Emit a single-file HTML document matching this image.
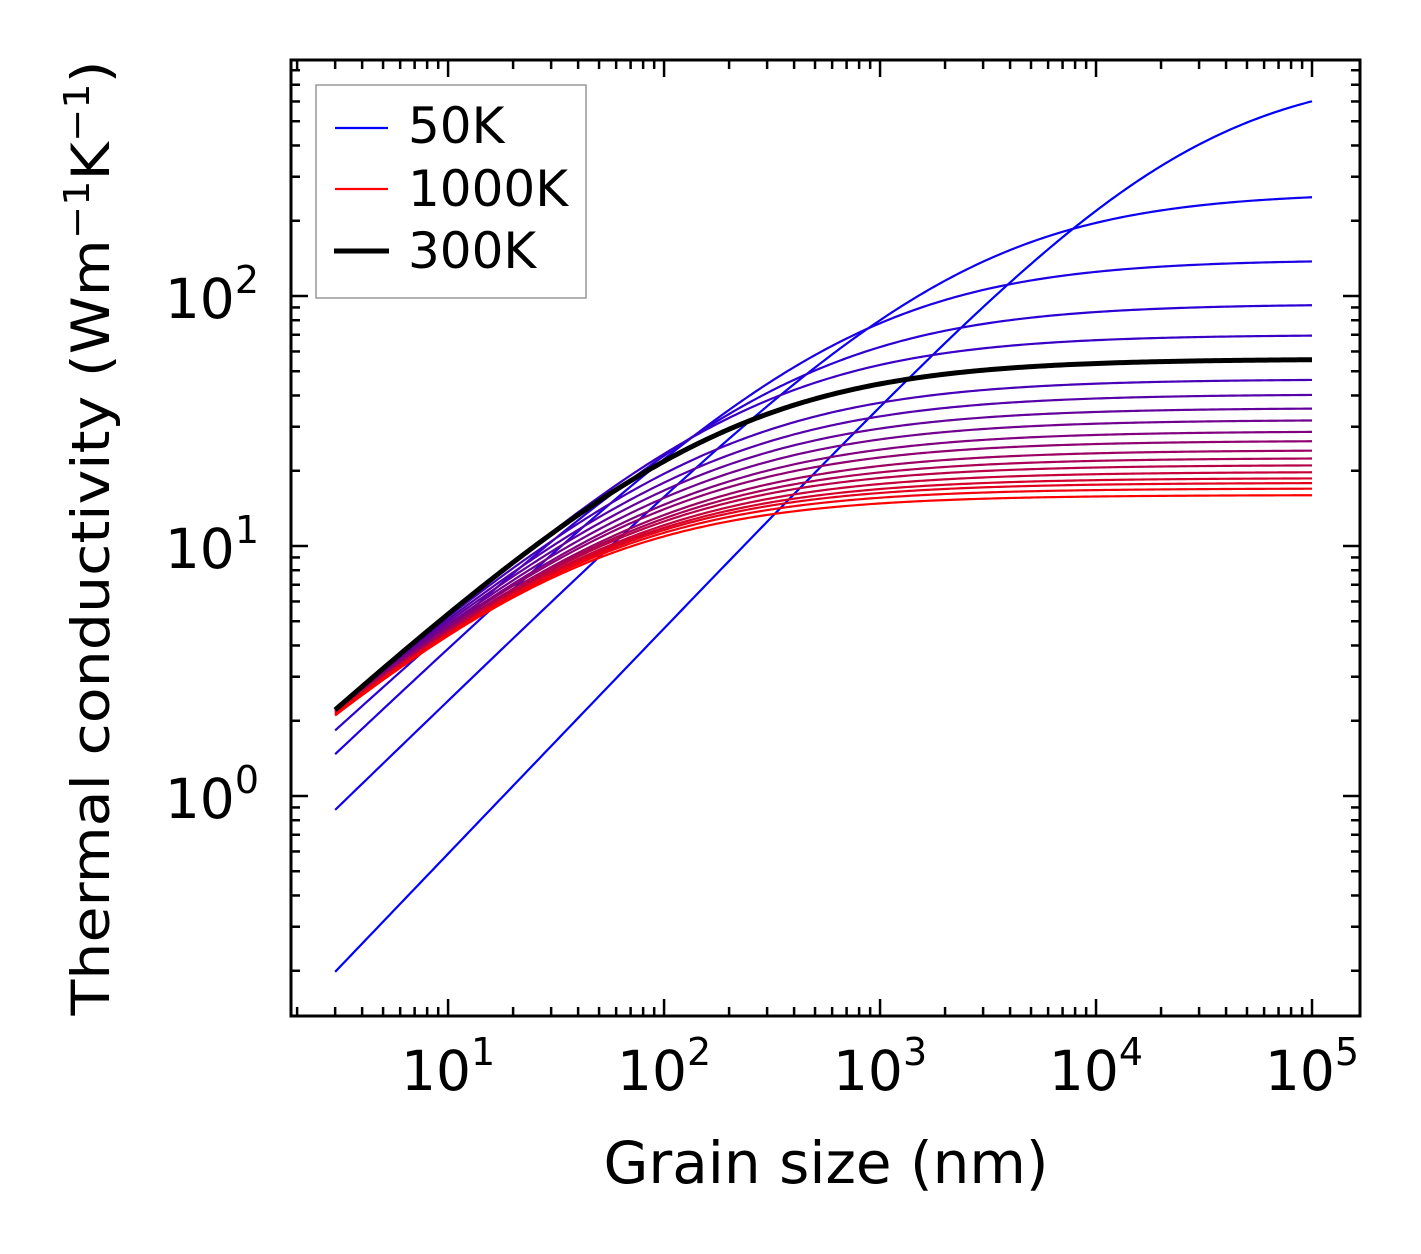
<!DOCTYPE html>
<html><head><meta charset="utf-8"><style>
html,body{margin:0;padding:0;background:#fff;}
svg{display:block;font-family:"DejaVu Sans","Liberation Sans",sans-serif;}
</style></head><body>
<svg id="chart" width="1421" height="1254" viewBox="0 0 1421 1254" xmlns="http://www.w3.org/2000/svg">
<rect x="0" y="0" width="1421" height="1254" fill="#fff"/>
<g id="series"></g>
<g id="ticks"></g>
<rect x="291" y="60" width="1069" height="956" fill="none" stroke="#000" stroke-width="3"/>
<g id="xlabels"></g>
<g id="ylabels"></g>
<text x="826" y="1183" font-size="58" text-anchor="middle">Grain size (nm)</text>
<text transform="translate(109,538) rotate(-90)" font-size="53" text-anchor="middle" textLength="955" lengthAdjust="spacingAndGlyphs">Thermal conductivity (Wm<tspan dy="-20" font-size="36">−1</tspan><tspan dy="20">K</tspan><tspan dy="-20" font-size="36">−1</tspan><tspan dy="20">)</tspan></text>
<g>
<rect x="316" y="85" width="270" height="213" fill="#fff" stroke="#999" stroke-width="1.5"/>
<line x1="335" y1="128" x2="388" y2="128" stroke="#0000ff" stroke-width="2.2"/>
<text x="408" y="143" font-size="50">50K</text>
<line x1="335" y1="189" x2="388" y2="189" stroke="#ff0000" stroke-width="2.2"/>
<text x="408" y="206" font-size="50">1000K</text>
<line x1="334" y1="251" x2="389" y2="251" stroke="#000" stroke-width="5"/>
<text x="408" y="268" font-size="50">300K</text>
</g>
</svg>
<script>
// Per-curve values: conductivity at 3 nm, at 1000 nm, and bulk plateau
const temperatures = [50,100,150,200,250,350,400,450,500,550,600,650,700,750,800,850,900,950,1000];
const kAt3nm = [0.198,0.88,1.47,1.83,2.1,2.24,2.24,2.23,2.22,2.21,2.2,2.19,2.18,2.17,2.16,2.15,2.13,2.12,2.1];
const kAt1000nm = [36,80,77.8,62.5,53,37.4,33.0,29.5,26.7,24.3,22.6,20.9,19.7,18.7,17.7,16.9,16.3,15.6,14.8];
const kBulk = [800,260,140,93,70,46.5,40.5,35.7,32,28.8,26.4,24.2,22.5,21.1,19.8,18.7,17.9,17.0,16.0];
const k300 = [2.21, 44.5, 56]; // 300 K: at 3 nm, at 1000 nm, bulk
const grainRange = [3, 100000];
const xTickExps = [1, 2, 3, 4, 5];
const yTickExps = [0, 1, 2];

const NS = "http://www.w3.org/2000/svg";
const L = 291, R = 1360, T = 60, B = 1016;
const xMinL = 0.2727, xMaxL = 5.2222, yMinL = -0.88, yMaxL = 2.944;
function xs(v){ return L + (Math.log10(v) - xMinL) / (xMaxL - xMinL) * (R - L); }
function ys(v){ return B - (Math.log10(v) - yMinL) / (yMaxL - yMinL) * (B - T); }

function pathFor(k3, k1000, kinf){
  const u3 = k3/(kinf-k3), u1 = k1000/(kinf-k1000);
  const a = Math.log(u1/u3)/Math.log(1000/3);
  let d = "";
  const la = Math.log10(grainRange[0]), lb = Math.log10(grainRange[1]);
  for (let i=0;i<=300;i++){
    const Lg = Math.pow(10, la + (lb-la)*i/300);
    const u = u3*Math.pow(Lg/3, a);
    const k = kinf*u/(1+u);
    d += (i?"L":"M") + xs(Lg).toFixed(2) + "," + ys(k).toFixed(2);
  }
  return d;
}
const sg = document.getElementById("series");
temperatures.forEach((T0, i) => {
  const t = i/(temperatures.length-1);
  const p = document.createElementNS(NS, "path");
  p.setAttribute("d", pathFor(kAt3nm[i], kAt1000nm[i], kBulk[i]));
  p.setAttribute("fill", "none");
  p.setAttribute("stroke", `rgb(${Math.round(255*t)},0,${Math.round(255*(1-t))})`);
  p.setAttribute("stroke-width", "2.2");
  
  
  sg.appendChild(p);
});
const bp = document.createElementNS(NS, "path");
bp.setAttribute("d", pathFor(k300[0], k300[1], k300[2]));
bp.setAttribute("fill", "none");
bp.setAttribute("stroke", "#000");
bp.setAttribute("stroke-width", "5");


sg.appendChild(bp);

const tg = document.getElementById("ticks");
function line(x1,y1,x2,y2,name){
  const l = document.createElementNS(NS,"line");
  l.setAttribute("x1",x1); l.setAttribute("y1",y1); l.setAttribute("x2",x2); l.setAttribute("y2",y2);
  l.setAttribute("stroke","#000"); l.setAttribute("stroke-width","2.5");
  
  
  tg.appendChild(l);
}
for (let e=0;e<=5;e++){
  for (let k=1;k<=9;k++){
    const v = k*Math.pow(10,e), x = xs(v);
    if (x < L+1 || x > R-1) continue;
    const len = k===1 ? 17 : 9;
    line(x,B,x,B-len,'x-tick');
    line(x,T,x,T+len,'x-tick-top');
  }
}
for (let e=-1;e<=2;e++){
  for (let k=1;k<=9;k++){
    const v = k*Math.pow(10,e), y = ys(v);
    if (y < T+1 || y > B-1) continue;
    const len = k===1 ? 17 : 9;
    line(L,y,L+len,y,'y-tick');
    line(R,y,R-len,y,'y-tick-right');
  }
}
const xl = document.getElementById("xlabels");
xTickExps.forEach(e => {
  const t = document.createElementNS(NS,"text");
  t.setAttribute("x", xs(Math.pow(10,e)));
  t.setAttribute("y", 1090);
  t.setAttribute("font-size","55");
  t.setAttribute("text-anchor","middle");
  t.innerHTML = `10<tspan dy="-25" font-size="38">${e}</tspan>`;
  
  
  xl.appendChild(t);
});
const yl = document.getElementById("ylabels");
yTickExps.forEach(e => {
  const t = document.createElementNS(NS,"text");
  t.setAttribute("x", 259);
  t.setAttribute("y", ys(Math.pow(10,e)) + 22);
  t.setAttribute("font-size","55");
  t.setAttribute("text-anchor","end");
  t.innerHTML = `10<tspan dy="-25" font-size="38">${e}</tspan>`;
  
  
  yl.appendChild(t);
});
</script>
</body></html>
